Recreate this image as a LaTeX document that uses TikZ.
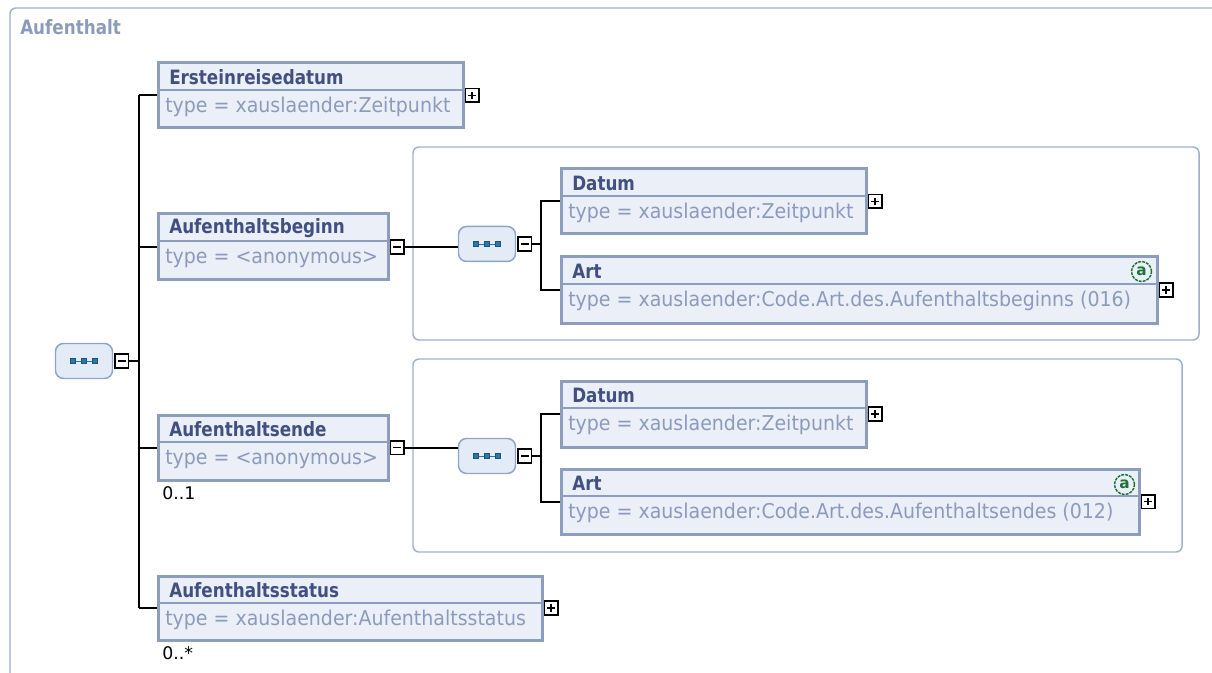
\documentclass[tikz,border=0pt]{standalone}
\usepackage{fontspec}
\setmainfont{DejaVu Sans}
\newfontfamily\titlefont{DejaVu Sans}[FakeStretch=0.85]
\newfontfamily\typefont{DejaVu Sans}[FakeStretch=0.93]
\usetikzlibrary{positioning}

\definecolor{boxline}{RGB}{141,157,190}
\definecolor{boxfill}{RGB}{234,239,248}
\definecolor{titleblue}{RGB}{65,80,128}
\definecolor{typegray}{RGB}{140,155,188}
\definecolor{grpline}{RGB}{160,175,205}
\definecolor{seqfill}{RGB}{227,235,246}
\definecolor{seqline}{RGB}{140,165,200}
\definecolor{seqblue}{RGB}{40,120,170}
\definecolor{attrgreen}{RGB}{30,115,55}

\begin{document}
\begin{tikzpicture}[x=0.75pt, y=-0.75pt,
  elem/.style 2 args = {draw=boxline, line width=2.25pt, fill=boxfill,
    anchor=north west, inner sep=0pt,
    minimum width=#1*0.75pt, minimum height=#2*0.75pt},
  elemtitle/.style = {font=\titlefont\bfseries\fontsize{14.8}{17}\selectfont,
    text=titleblue, inner sep=0pt, anchor=west},
  typetext/.style = {font=\typefont\fontsize{15.3}{17}\selectfont,
    text=typegray, inner sep=0pt, anchor=west},
  divider/.style = {draw=boxline, line width=1.3pt},
  seq/.style = {draw=seqline, line width=1.1pt, fill=seqfill,
    rounded corners=6pt, anchor=north west,
    minimum width=42.75pt, minimum height=26.25pt},
  seqdot/.style = {fill=seqblue, draw=seqblue!70!black, line width=0.3pt,
    minimum size=3.6pt, inner sep=0pt},
  pmbox/.style = {draw=black, fill=white, line width=1.2pt,
    minimum size=10.2pt, inner sep=0pt},
  pmminus/.style = {pmbox, path picture={
    \draw[line width=1.1pt] ([xshift=2.2pt]path picture bounding box.west)
      -- ([xshift=-2.2pt]path picture bounding box.east);}},
  pmplus/.style = {pmbox, path picture={
    \draw[line width=1.1pt] ([xshift=2.2pt]path picture bounding box.west)
      -- ([xshift=-2.2pt]path picture bounding box.east);
    \draw[line width=1.1pt] ([yshift=2.2pt]path picture bounding box.south)
      -- ([yshift=-2.2pt]path picture bounding box.north);}},
  attr/.style = {circle, draw=attrgreen, line width=1.1pt,
    dash pattern=on 2.2pt off 0.8pt, minimum size=15pt, inner sep=0pt,
    text=attrgreen, font=\bfseries\fontsize{11.5}{11.5}\selectfont},
  group/.style = {draw=grpline, line width=1.1pt, rounded corners=4.5pt},
  occurs/.style = {font=\fontsize{13}{15}\selectfont, inner sep=0pt, anchor=west},
  conn/.style = {draw=black, line width=1.5pt}
  ]
  \useasboundingbox (0,0) rectangle (1212,673);

  % outer frame
  \draw[group] (10,673) -- (10,8) -- (1212,8);
  \node[elemtitle, text=typegray] (frametitle) at (20,27) {Aufenthalt};

  % groups of the two anonymous types
  \draw[group] (413,147) rectangle (1199,340);
  \draw[group] (413,359) rectangle (1182,552);

  % sequences
  \node[seq] (seq0) at (54.75,342.75) {};
  \node[pmminus, right=0.75pt of seq0] (seq0x) {};
  \node[seq] (seq1) at (457.75,225.75) {};
  \node[pmminus, right=0.75pt of seq1] (seq1x) {};
  \node[seq] (seq2) at (457.75,437.75) {};
  \node[pmminus, right=0.75pt of seq2] (seq2x) {};
  \foreach \s in {seq0,seq1,seq2} {
    \draw[seqblue, line width=0.6pt] ([shift={(-12,0)}]\s.center)
      -- ([shift={(12,0)}]\s.center);
    \foreach \d in {-11,0,11}
      \node[seqdot] at ([shift={(\d,0)}]\s.center) {};
  }

  % elements
  \node[elem={305}{65}] (erst) at (156.5,61.5) {};
  \node[elemtitle] at ([shift={(12.5,15.5)}]erst.north west) {Ersteinreisedatum};
  \node[typetext] at ([shift={(8.5,45.5)}]erst.north west) {type = xauslaender:Zeitpunkt};
  \node[pmplus, right=0pt of erst] (erstx) {};

  \node[elem={230}{66}] (beg) at (156.5,212.5) {};
  \node[elemtitle] at ([shift={(12.5,15.5)}]beg.north west) {Aufenthaltsbeginn};
  \node[typetext] at ([shift={(8.5,45.5)}]beg.north west) {type = <anonymous>};
  \node[pmminus, right=0pt of beg] (begx) {};

  \node[elem={230}{65}] (ende) at (156.5,413.5) {};
  \node[elemtitle] at ([shift={(12.5,15.5)}]ende.north west) {Aufenthaltsende};
  \node[typetext] at ([shift={(8.5,45.5)}]ende.north west) {type = <anonymous>};
  \node[pmminus, right=0pt of ende] (endex) {};
  \node[occurs] (endeocc) at (162,493) {0..1};

  \node[elem={384}{64}] (status) at (156.5,574.5) {};
  \node[elemtitle] at ([shift={(12.5,15.5)}]status.north west) {Aufenthaltsstatus};
  \node[typetext] at ([shift={(8.5,45.5)}]status.north west) {type = xauslaender:Aufenthaltsstatus};
  \node[pmplus, right=0pt of status] (statusx) {};
  \node[occurs] (statusocc) at (162,653) {0..*};

  \node[elem={305}{65}] (datum1) at (559.5,167.5) {};
  \node[elemtitle] at ([shift={(12.5,15.5)}]datum1.north west) {Datum};
  \node[typetext] at ([shift={(8.5,45.5)}]datum1.north west) {type = xauslaender:Zeitpunkt};
  \node[pmplus, right=0pt of datum1] (datum1x) {};

  \node[elem={596}{66}] (art1) at (559.5,255.5) {};
  \node[elemtitle] at ([shift={(12.5,15.5)}]art1.north west) {Art};
  \node[typetext] at ([shift={(8.5,45.5)}]art1.north west) {type = xauslaender:Code.Art.des.Aufenthaltsbeginns (016)};
  \node[pmplus, right=0pt of art1] (art1x) {};
  \node[attr] (art1a) at ([shift={(-17,16)}]art1.north east) {a};

  \node[elem={305}{66}] (datum2) at (559.5,379.5) {};
  \node[elemtitle] at ([shift={(12.5,15.5)}]datum2.north west) {Datum};
  \node[typetext] at ([shift={(8.5,45.5)}]datum2.north west) {type = xauslaender:Zeitpunkt};
  \node[pmplus, right=0pt of datum2] (datum2x) {};

  \node[elem={578}{65}] (art2) at (559.5,467.5) {};
  \node[elemtitle] at ([shift={(12.5,15.5)}]art2.north west) {Art};
  \node[typetext] at ([shift={(8.5,45.5)}]art2.north west) {type = xauslaender:Code.Art.des.Aufenthaltsendes (012)};
  \node[pmplus, right=0pt of art2] (art2x) {};
  \node[attr] (art2a) at ([shift={(-16,17)}]art2.north east) {a};

  % dividers
  \foreach \n in {erst,beg,ende,status,datum1,art1,datum2,art2}
    \draw[divider] ([shift={(0,28.5)}]\n.north west) -- ([shift={(0,28.5)}]\n.north east);

  % connectors
  \coordinate[right=7.5pt of seq0x] (j0);
  \draw[conn] (seq0x) -- (j0);
  \draw[conn] (j0 |- erst.west) -- (j0 |- status.west);
  \draw[conn] (j0 |- erst.west) -- (erst.west);
  \draw[conn] (j0 |- beg.west) -- (beg.west);
  \draw[conn] (j0 |- ende.west) -- (ende.west);
  \draw[conn] (j0 |- status.west) -- (status.west);

  \draw[conn] (begx) -- (begx -| seq1.west);
  \coordinate[right=6.5pt of seq1x] (j1);
  \draw[conn] (seq1x) -- (j1);
  \draw[conn] (datum1.west) -| (j1) |- (art1.west);

  \draw[conn] (endex) -- (endex -| seq2.west);
  \coordinate[right=6.5pt of seq2x] (j2);
  \draw[conn] (seq2x) -- (j2);
  \draw[conn] (datum2.west) -| (j2) |- (art2.west);
\end{tikzpicture}
\end{document}
